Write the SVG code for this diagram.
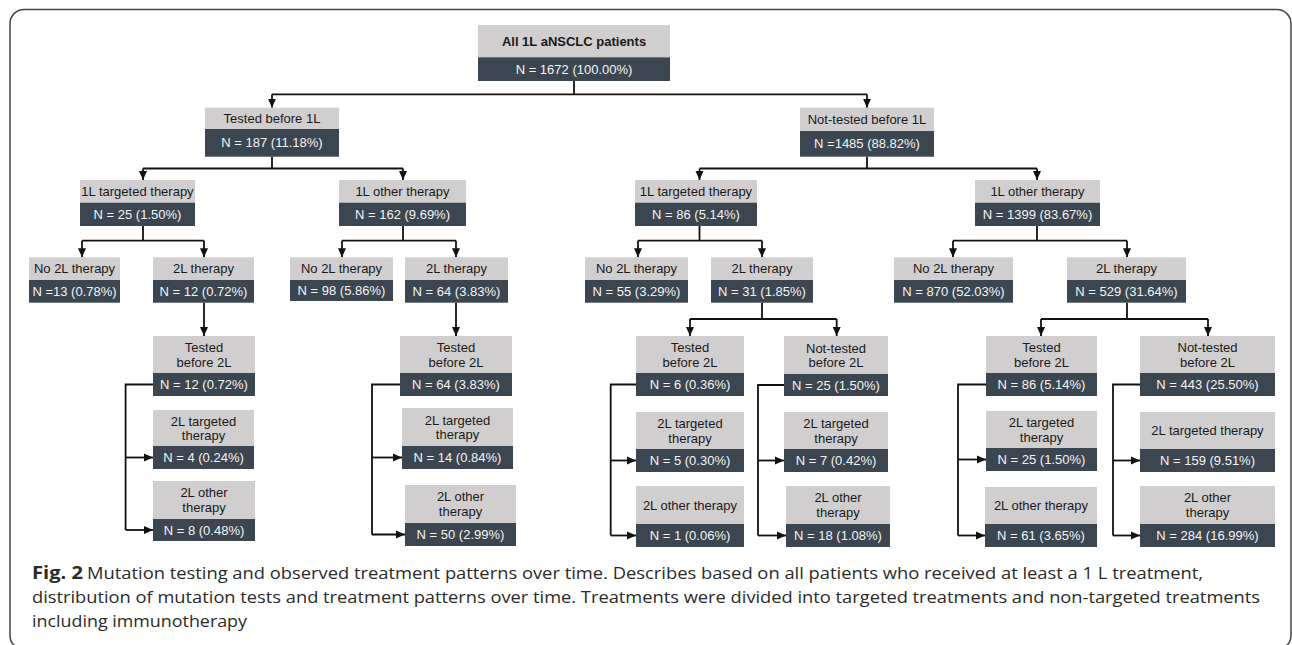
<svg xmlns="http://www.w3.org/2000/svg" width="1292" height="645" viewBox="0 0 1292 645">
<style>
.g{fill:#d1cecf}
.d{fill:#3b4650}
.t{font-family:"Liberation Sans",Arial,sans-serif;font-size:13px;text-anchor:middle;fill:#1a1a1a}
.w{fill:#f4f4f4}
.b{font-weight:bold}
.c{stroke:#111;stroke-width:1.8;fill:none}
.a{stroke:#111;stroke-width:1.8;fill:none;marker-end:url(#ah)}
.cap{font-family:"Open Sans","Liberation Sans",sans-serif;font-size:17px;fill:#2a2a2a}
</style>
<defs>
<marker id="ah" markerUnits="userSpaceOnUse" markerWidth="10" markerHeight="10" refX="9" refY="5" orient="auto" viewBox="0 0 10 10">
<path d="M0,1 L9,5 L0,9 z" fill="#111"/>
</marker>
</defs>
<rect x="10" y="9.5" width="1281" height="640" rx="14" fill="none" stroke="#444" stroke-width="1.5"/>

<g id="connectors">
<path class="c" d="M574 81 V94.3 M272 94.3 H867"/>
<path class="a" d="M272 94.3 V107.7"/>
<path class="a" d="M867 94.3 V107.7"/>
<path class="c" d="M272 156.7 V168.5 M143 168.5 H403 M867 156.7 V168.5 M699.5 168.5 H1037"/>
<path class="a" d="M143 168.5 V180"/>
<path class="a" d="M403 168.5 V180"/>
<path class="a" d="M699.5 168.5 V180"/>
<path class="a" d="M1037 168.5 V180"/>
<path class="c" d="M143 226 V240.7 M82 240.7 H204 M403 226 V240.7 M342 240.7 H456 M699.5 226 V240.7 M638 240.7 H762 M1037 226 V240.7 M953 240.7 H1127"/>
<path class="a" d="M82 240.7 V257.3"/>
<path class="a" d="M204 240.7 V257.3"/>
<path class="a" d="M342 240.7 V257.3"/>
<path class="a" d="M456 240.7 V257.3"/>
<path class="a" d="M638 240.7 V257.3"/>
<path class="a" d="M762 240.7 V257.3"/>
<path class="a" d="M953 240.7 V257.3"/>
<path class="a" d="M1127 240.7 V257.3"/>
<path class="a" d="M204 302.7 V336"/>
<path class="a" d="M456 302.7 V336"/>
<path class="c" d="M762 302.7 V319 M690 319 H836.7 M1127 302.7 V319 M1041 319 H1208"/>
<path class="a" d="M690 319 V336"/>
<path class="a" d="M836.7 319 V336"/>
<path class="a" d="M1041 319 V336"/>
<path class="a" d="M1208 319 V336"/>
<path class="c" d="M153 384.5 H125.6 V530"/>
<path class="a" d="M125.6 457.5 H153"/>
<path class="a" d="M125.6 530 H153"/>
<path class="c" d="M400 384.5 H372 V534.5"/>
<path class="a" d="M372 457.5 H402"/>
<path class="a" d="M372 534.5 H405"/>
<path class="c" d="M636 384.5 H610.7 V535.5"/>
<path class="a" d="M610.7 460.5 H636"/>
<path class="a" d="M610.7 535.5 H636"/>
<path class="c" d="M784 385 H758 V535.5"/>
<path class="a" d="M758 460.5 H784"/>
<path class="a" d="M758 535.5 H786"/>
<path class="c" d="M986 384.5 H958 V535.5"/>
<path class="a" d="M958 459.5 H986"/>
<path class="a" d="M958 535.5 H985"/>
<path class="c" d="M1140 384.5 H1113 V535.5"/>
<path class="a" d="M1113 460.5 H1140"/>
<path class="a" d="M1113 535.5 H1140"/>
</g>

<g id="n-all">
<rect class="g" x="478" y="25" width="192" height="32.3"/>
<rect class="d" x="478" y="57.3" width="192" height="23.7"/>
<text class="t b" x="574" y="45.5">All 1L aNSCLC patients</text>
<text class="t w" x="574" y="73.5">N = 1672 (100.00%)</text>
</g>

<g id="n-tested1L">
<rect class="g" x="205" y="107.7" width="134" height="21.3"/>
<rect class="d" x="205" y="129" width="134" height="27.7"/>
<text class="t" x="272" y="123">Tested before 1L</text>
<text class="t w" x="272" y="147.4">N = 187 (11.18%)</text>
</g>

<g id="n-nottested1L">
<rect class="g" x="800" y="107.7" width="134" height="23.3"/>
<rect class="d" x="800" y="131" width="134" height="25.7"/>
<text class="t" x="867" y="124">Not-tested before 1L</text>
<text class="t w" x="867" y="148.4">N =1485 (88.82%)</text>
</g>

<g id="n-t-1Ltarget">
<rect class="g" x="80" y="180" width="115" height="22.7"/>
<rect class="d" x="80" y="202.7" width="115" height="23.3"/>
<text class="t" x="137.5" y="196">1L targeted therapy</text>
<text class="t w" x="137.5" y="219">N = 25 (1.50%)</text>
</g>
<g id="n-t-1Lother">
<rect class="g" x="339" y="180" width="127" height="22.7"/>
<rect class="d" x="339" y="202.7" width="127" height="23.3"/>
<text class="t" x="402.5" y="196">1L other therapy</text>
<text class="t w" x="402.5" y="219">N = 162 (9.69%)</text>
</g>
<g id="n-n-1Ltarget">
<rect class="g" x="635" y="180" width="122" height="22.7"/>
<rect class="d" x="635" y="202.7" width="122" height="23.3"/>
<text class="t" x="696" y="196">1L targeted therapy</text>
<text class="t w" x="696" y="219">N = 86 (5.14%)</text>
</g>
<g id="n-n-1Lother">
<rect class="g" x="975" y="180" width="125" height="22.7"/>
<rect class="d" x="975" y="202.7" width="125" height="23.3"/>
<text class="t" x="1037.5" y="196">1L other therapy</text>
<text class="t w" x="1037.5" y="219">N = 1399 (83.67%)</text>
</g>

<g id="n-g">
<rect class="g" x="29" y="257.3" width="91" height="22.7"/>
<rect class="d" x="29" y="280" width="91" height="22.7"/>
<text class="t" x="74.5" y="273.2">No 2L therapy</text>
<text class="t w" x="74.5" y="296">N =13 (0.78%)</text>
</g>
<g id="n-h">
<rect class="g" x="153" y="257.3" width="101" height="22.7"/>
<rect class="d" x="153" y="280" width="101" height="22.7"/>
<text class="t" x="203.5" y="273.2">2L therapy</text>
<text class="t w" x="203.5" y="296">N = 12 (0.72%)</text>
</g>
<g id="n-i">
<rect class="g" x="290" y="257.3" width="103" height="22.7"/>
<rect class="d" x="290" y="280" width="103" height="21"/>
<text class="t" x="341.5" y="273.2">No 2L therapy</text>
<text class="t w" x="341.5" y="295">N = 98 (5.86%)</text>
</g>
<g id="n-j">
<rect class="g" x="405" y="257.3" width="103" height="22.7"/>
<rect class="d" x="405" y="280" width="103" height="22.7"/>
<text class="t" x="456.5" y="273.2">2L therapy</text>
<text class="t w" x="456.5" y="296">N = 64 (3.83%)</text>
</g>
<g id="n-k">
<rect class="g" x="585" y="257.3" width="103" height="22.7"/>
<rect class="d" x="585" y="280" width="103" height="22.7"/>
<text class="t" x="636.5" y="273.2">No 2L therapy</text>
<text class="t w" x="636.5" y="296">N = 55 (3.29%)</text>
</g>
<g id="n-l">
<rect class="g" x="711" y="257.3" width="102" height="22.7"/>
<rect class="d" x="711" y="280" width="102" height="22.7"/>
<text class="t" x="762" y="273.2">2L therapy</text>
<text class="t w" x="762" y="296">N = 31 (1.85%)</text>
</g>
<g id="n-m">
<rect class="g" x="894" y="257.3" width="119" height="22.7"/>
<rect class="d" x="894" y="280" width="119" height="22.7"/>
<text class="t" x="953.5" y="273.2">No 2L therapy</text>
<text class="t w" x="953.5" y="296">N = 870 (52.03%)</text>
</g>
<g id="n-n">
<rect class="g" x="1067" y="257.3" width="119" height="22.7"/>
<rect class="d" x="1067" y="280" width="119" height="22.7"/>
<text class="t" x="1126.5" y="273.2">2L therapy</text>
<text class="t w" x="1126.5" y="296">N = 529 (31.64%)</text>
</g>

<g id="c1-tested">
<rect class="g" x="153" y="336" width="102" height="37"/>
<rect class="d" x="153" y="373" width="102" height="23"/>
<text class="t" x="204" y="352">Tested</text>
<text class="t" x="204" y="366.5">before 2L</text>
<text class="t w" x="204" y="389">N = 12 (0.72%)</text>
</g>
<g id="c1-target">
<rect class="g" x="153" y="410" width="101" height="36"/>
<rect class="d" x="153" y="446" width="101" height="23"/>
<text class="t" x="203.5" y="425.5">2L targeted</text>
<text class="t" x="203.5" y="440">therapy</text>
<text class="t w" x="203.5" y="462">N = 4 (0.24%)</text>
</g>
<g id="c1-other">
<rect class="g" x="153" y="481" width="102" height="38"/>
<rect class="d" x="153" y="519" width="102" height="22"/>
<text class="t" x="204" y="497">2L other</text>
<text class="t" x="204" y="511.5">therapy</text>
<text class="t w" x="204" y="534.5">N = 8 (0.48%)</text>
</g>

<g id="c2-tested">
<rect class="g" x="400" y="336" width="112" height="37"/>
<rect class="d" x="400" y="373" width="112" height="23"/>
<text class="t" x="456" y="352">Tested</text>
<text class="t" x="456" y="366.5">before 2L</text>
<text class="t w" x="456" y="389">N = 64 (3.83%)</text>
</g>
<g id="c2-target">
<rect class="g" x="402" y="408" width="111" height="38"/>
<rect class="d" x="402" y="446" width="111" height="23"/>
<text class="t" x="457.5" y="424.5">2L targeted</text>
<text class="t" x="457.5" y="439">therapy</text>
<text class="t w" x="457.5" y="462">N = 14 (0.84%)</text>
</g>
<g id="c2-other">
<rect class="g" x="405" y="485" width="111" height="38"/>
<rect class="d" x="405" y="523" width="111" height="23"/>
<text class="t" x="460.5" y="501">2L other</text>
<text class="t" x="460.5" y="515.5">therapy</text>
<text class="t w" x="460.5" y="539">N = 50 (2.99%)</text>
</g>

<g id="c3-tested">
<rect class="g" x="636" y="336" width="108" height="37"/>
<rect class="d" x="636" y="373" width="108" height="23"/>
<text class="t" x="690" y="352">Tested</text>
<text class="t" x="690" y="366.5">before 2L</text>
<text class="t w" x="690" y="389">N = 6 (0.36%)</text>
</g>
<g id="c3-target">
<rect class="g" x="636" y="412" width="108" height="37"/>
<rect class="d" x="636" y="449" width="108" height="23"/>
<text class="t" x="690" y="428">2L targeted</text>
<text class="t" x="690" y="442.5">therapy</text>
<text class="t w" x="690" y="465">N = 5 (0.30%)</text>
</g>
<g id="c3-other">
<rect class="g" x="636" y="486" width="108" height="38"/>
<rect class="d" x="636" y="524" width="108" height="23"/>
<text class="t" x="690" y="509.5">2L other therapy</text>
<text class="t w" x="690" y="540">N = 1 (0.06%)</text>
</g>

<g id="c4-nottested">
<rect class="g" x="784" y="336" width="104" height="38"/>
<rect class="d" x="784" y="374" width="104" height="22"/>
<text class="t" x="836" y="352.5">Not-tested</text>
<text class="t" x="836" y="367">before 2L</text>
<text class="t w" x="836" y="389.5">N = 25 (1.50%)</text>
</g>
<g id="c4-target">
<rect class="g" x="784" y="412" width="104" height="37"/>
<rect class="d" x="784" y="449" width="104" height="23"/>
<text class="t" x="836" y="428">2L targeted</text>
<text class="t" x="836" y="442.5">therapy</text>
<text class="t w" x="836" y="465">N = 7 (0.42%)</text>
</g>
<g id="c4-other">
<rect class="g" x="786" y="486" width="104" height="38"/>
<rect class="d" x="786" y="524" width="104" height="23"/>
<text class="t" x="838" y="502">2L other</text>
<text class="t" x="838" y="516.5">therapy</text>
<text class="t w" x="838" y="540">N = 18 (1.08%)</text>
</g>

<g id="c5-tested">
<rect class="g" x="986" y="336" width="111" height="37"/>
<rect class="d" x="986" y="373" width="111" height="23"/>
<text class="t" x="1041.5" y="352">Tested</text>
<text class="t" x="1041.5" y="366.5">before 2L</text>
<text class="t w" x="1041.5" y="389">N = 86 (5.14%)</text>
</g>
<g id="c5-target">
<rect class="g" x="986" y="411" width="111" height="37"/>
<rect class="d" x="986" y="448" width="111" height="23"/>
<text class="t" x="1041.5" y="427">2L targeted</text>
<text class="t" x="1041.5" y="441.5">therapy</text>
<text class="t w" x="1041.5" y="464">N = 25 (1.50%)</text>
</g>
<g id="c5-other">
<rect class="g" x="985" y="487" width="112" height="37"/>
<rect class="d" x="985" y="524" width="112" height="23"/>
<text class="t" x="1041" y="510">2L other therapy</text>
<text class="t w" x="1041" y="540">N = 61 (3.65%)</text>
</g>

<g id="c6-nottested">
<rect class="g" x="1140" y="336" width="135" height="37"/>
<rect class="d" x="1140" y="373" width="135" height="23"/>
<text class="t" x="1207.5" y="352">Not-tested</text>
<text class="t" x="1207.5" y="366.5">before 2L</text>
<text class="t w" x="1207.5" y="389">N = 443 (25.50%)</text>
</g>
<g id="c6-target">
<rect class="g" x="1140" y="412" width="135" height="37"/>
<rect class="d" x="1140" y="449" width="135" height="23"/>
<text class="t" x="1207.5" y="435">2L targeted therapy</text>
<text class="t w" x="1207.5" y="465">N = 159 (9.51%)</text>
</g>
<g id="c6-other">
<rect class="g" x="1140" y="486" width="135" height="38"/>
<rect class="d" x="1140" y="524" width="135" height="23"/>
<text class="t" x="1207.5" y="502">2L other</text>
<text class="t" x="1207.5" y="516.5">therapy</text>
<text class="t w" x="1207.5" y="540">N = 284 (16.99%)</text>
</g>

<g id="caption">
<text class="cap" x="32" y="579" font-weight="bold" textLength="51" lengthAdjust="spacingAndGlyphs">Fig. 2</text>
<text class="cap" x="87" y="579" textLength="1116" lengthAdjust="spacingAndGlyphs">Mutation testing and observed treatment patterns over time. Describes based on all patients who received at least a 1 L treatment,</text>
<text class="cap" x="32" y="603" textLength="1228" lengthAdjust="spacingAndGlyphs">distribution of mutation tests and treatment patterns over time. Treatments were divided into targeted treatments and non-targeted treatments</text>
<text class="cap" x="32" y="627" textLength="215" lengthAdjust="spacingAndGlyphs">including immunotherapy</text>
</g>
</svg>
